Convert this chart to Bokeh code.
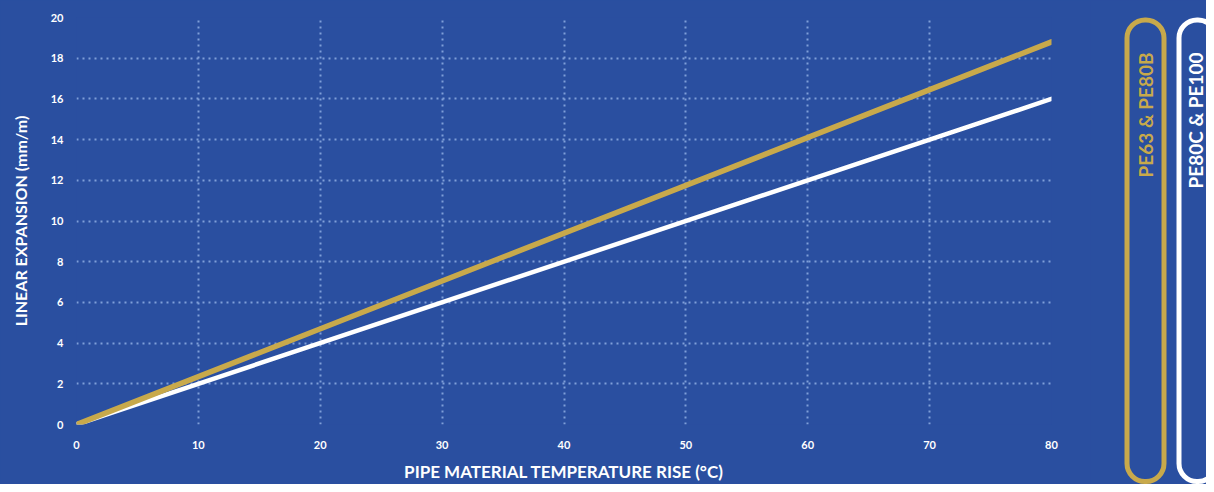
import math
from bokeh.plotting import figure
from bokeh.layouts import row
from bokeh.models import Range1d, FixedTicker
from bokeh.core.properties import value
from bokeh.embed import file_html
from bokeh.resources import INLINE

# ---- data ----
x_ticks = [0, 10, 20, 30, 40, 50, 60, 70, 80]
y_ticks = [0, 2, 4, 6, 8, 10, 12, 14, 16, 18, 20]
temp_rise = [0, 80]
pe63_pe80b = [0, 18.8]
pe80c_pe100 = [0, 16.0]
legend_labels = ["PE63 & PE80B", "PE80C & PE100"]
x_title = "PIPE MATERIAL TEMPERATURE RISE (°C)"
y_title = "LINEAR EXPANSION (mm/m)"

BG = "#2a4fa0"
GOLD = "#c8a94b"
WHITE = "#ffffff"
GRID = "#7f9fd8"
FONT = "Lato"

W_MAIN, H = 1090, 484
W_LEG = 116

p = figure(width=W_MAIN, height=H, output_backend="svg", toolbar_location=None,
           x_range=Range1d(0, 80), y_range=Range1d(0, 20),
           min_border_left=76, min_border_right=W_MAIN - 1051,
           min_border_top=17, min_border_bottom=H - 429)
p.frame_align = False
p.background_fill_color = BG
p.border_fill_color = BG
p.outline_line_color = None

p.line(temp_rise, pe80c_pe100, line_color=WHITE, line_width=4.5, line_cap="round")
p.line(temp_rise, pe63_pe80b, line_color=GOLD, line_width=5.5, line_cap="round")

for ax in (p.xaxis[0], p.yaxis[0]):
    ax.axis_line_color = None
    ax.major_tick_line_color = None
    ax.minor_tick_line_color = None
    ax.major_tick_out = 0
    ax.major_tick_in = 0
    ax.major_label_text_color = WHITE
    ax.major_label_text_font = FONT
    ax.major_label_text_font_style = "bold"
    ax.major_label_text_font_size = "11px"
    ax.axis_label_text_color = WHITE
    ax.axis_label_text_font = FONT
    ax.axis_label_text_font_style = "bold"

p.xaxis.ticker = FixedTicker(ticks=x_ticks)
p.yaxis.ticker = FixedTicker(ticks=y_ticks)
p.xaxis.axis_label = x_title
p.yaxis.axis_label = y_title
p.xaxis.axis_label_text_font_size = "17px"
p.yaxis.axis_label_text_font_size = "16px"
p.xaxis.major_label_standoff = 16
p.yaxis.major_label_standoff = 13
p.xaxis.axis_label_standoff = 9
p.yaxis.axis_label_standoff = 18

p.xgrid.ticker = FixedTicker(ticks=x_ticks[:-1])
p.ygrid.ticker = FixedTicker(ticks=y_ticks)
for g in (p.xgrid[0], p.ygrid[0]):
    g.grid_line_color = GRID
    g.grid_line_width = 2
    g.grid_line_dash = "2 4"

# ---- legend panel ----
q = figure(width=W_LEG, height=H, output_backend="svg", toolbar_location=None,
           x_range=Range1d(0, W_LEG), y_range=Range1d(0, H),
           min_border=0, min_border_left=0, min_border_right=0,
           min_border_top=0, min_border_bottom=0)
q.frame_align = False
q.axis.visible = False
q.grid.visible = False
q.background_fill_color = BG
q.border_fill_color = BG
q.outline_line_color = None

q.quad(left=[36.5, 88.5], right=[73.5, 125.5], top=[464.5, 464.5], bottom=[3, 3],
       fill_color=None, line_color=[GOLD, WHITE], line_width=5, border_radius=18)
q.text(x=[55, 104.5], y=[432, 432], text=legend_labels, angle=math.pi / 2,
       text_align="right", text_baseline="middle", text_font=value(FONT),
       text_font_style="bold", text_font_size="19px", text_color=[GOLD, WHITE])

layout = row(p, q, spacing=0)
layout.styles = {"background-color": BG}

with open("out.html", "w") as f:
    f.write(file_html(layout, INLINE))
